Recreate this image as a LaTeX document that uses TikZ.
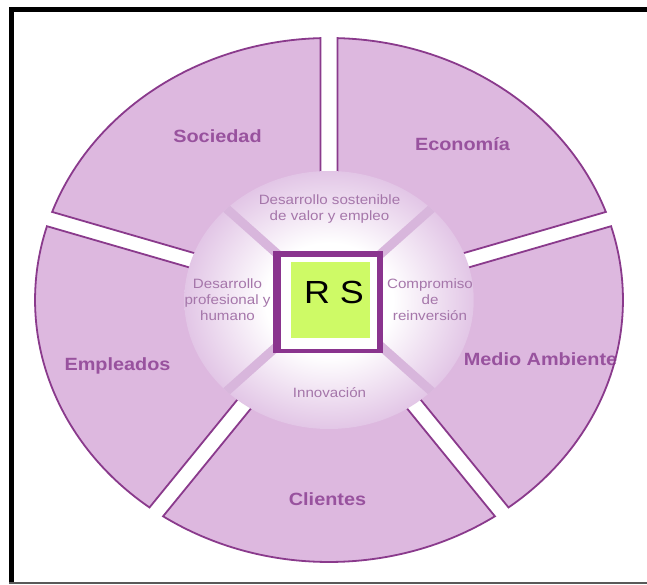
\documentclass[tikz,border=0pt]{standalone}
\usepackage{fontspec}
\setmainfont{Liberation Sans}
\usetikzlibrary{calc}

\definecolor{segfill}{RGB}{221,184,223}
\definecolor{segline}{RGB}{138,58,140}
\definecolor{outertext}{RGB}{152,82,158}
\definecolor{innertext}{RGB}{165,118,170}
\definecolor{diskrim}{RGB}{226,198,230}
\definecolor{bandcol}{RGB}{216,182,220}
\definecolor{squareline}{RGB}{138,52,142}
\definecolor{rsgreen}{RGB}{206,250,102}

% white centre fading to a lavender rim at the edge of the inner disk
\pgfdeclareradialshading{diskshade}{\pgfpoint{0bp}{0bp}}{%
  color(0bp)=(white); color(11bp)=(white); color(25bp)=(diskrim); color(50bp)=(diskrim)}

\tikzset{
  segbody/.style={fill=segfill},
  segedge/.style={draw=segline, line width=1.8pt, line join=miter},
  outerlabel/.style={font=\bfseries\fontsize{17.7}{20}\selectfont, text=outertext,
    anchor=base, inner sep=0pt, xscale=1.122},
  innerlabel/.style={font=\fontsize{13.5}{16}\selectfont, text=innertext,
    align=center, inner sep=0pt, xscale=1.122},
  band/.style={draw=bandcol, line width=9pt},
  framerule/.style={draw=black, line width=5pt},
}

\begin{document}
\begin{tikzpicture}[x=1pt, y=1pt]
  \useasboundingbox (0,0) rectangle (647,584);
  \fill[white] (0,0) rectangle (647,584);

  % five outer sectors separated by straight gaps
  \begin{scope}[shift={(329,284)}, xscale=1.122]
    \foreach \a [evaluate=\a as \ea using \a+72,
                 evaluate=\a as \sb using \a+1.64,
                 evaluate=\a as \eb using \a+70.36] in {18,90,162,234,306} {
      \path[segbody] ($(\a:100)+(\a+90:7.5)$) -- (\sb:262)
        arc[start angle=\sb, end angle=\eb, radius=262]
        -- ($(\ea:100)+(\ea-90:7.5)$) -- cycle;
    }
  \end{scope}

  \node[outerlabel] (sociedad)  at (217.5,441) {Sociedad};
  \node[outerlabel] (economia)  at (462.5,433) {Economía};
  \node[outerlabel] (empleados) at (117.5,214) {Empleados};
  \node[outerlabel] (medio)     at (540.5,219) {Medio Ambiente};
  \node[outerlabel] (clientes)  at (327.5,79)  {Clientes};

  \begin{scope}[shift={(329,284)}, xscale=1.122]
    \foreach \a [evaluate=\a as \ea using \a+72,
                 evaluate=\a as \sb using \a+1.64,
                 evaluate=\a as \eb using \a+70.36] in {18,90,162,234,306} {
      \path[segedge] ($(\a:100)+(\a+90:7.5)$) -- (\sb:262)
        arc[start angle=\sb, end angle=\eb, radius=262]
        -- ($(\ea:100)+(\ea-90:7.5)$) -- cycle;
    }

    % inner disk with its four diagonal bands
    \shade[shading=diskshade] (0,0) circle[radius=129];
    \begin{scope}
      \clip (0,0) circle[radius=129];
      \foreach \a in {45,135,225,315}
        \draw[band] (0,0) -- (\a:140);
    \end{scope}
  \end{scope}

  % central RS square
  \fill[squareline] (273,231) rectangle (383,333);
  \fill[white] (281,235) rectangle (377,327);
  \fill[rsgreen] (291,246) rectangle (370,322);
  \node[font=\fontsize{32}{36}\selectfont, anchor=base, inner sep=0pt, xscale=1.122]
    (rs) at (334,280.5) {R S};

  \node[innerlabel] (valor)      at (329.5,375) {Desarrollo sostenible\\de valor y empleo};
  \node[innerlabel] (profesional) at (227.5,284) {Desarrollo\\profesional y\\humano};
  \node[innerlabel] (reinversion) at (430,284) {Compromiso\\de\\reinversión};
  \node[innerlabel, anchor=base] (innovacion) at (329.5,187) {Innovación};

  % frame
  \draw[framerule] (11.5,2.5) -- (11.5,577);
  \draw[framerule] (9,574.5) -- (647,574.5);
  \draw[draw=black!65, line width=2.4pt] (9,1.2) -- (647,1.2);
\end{tikzpicture}
\end{document}
